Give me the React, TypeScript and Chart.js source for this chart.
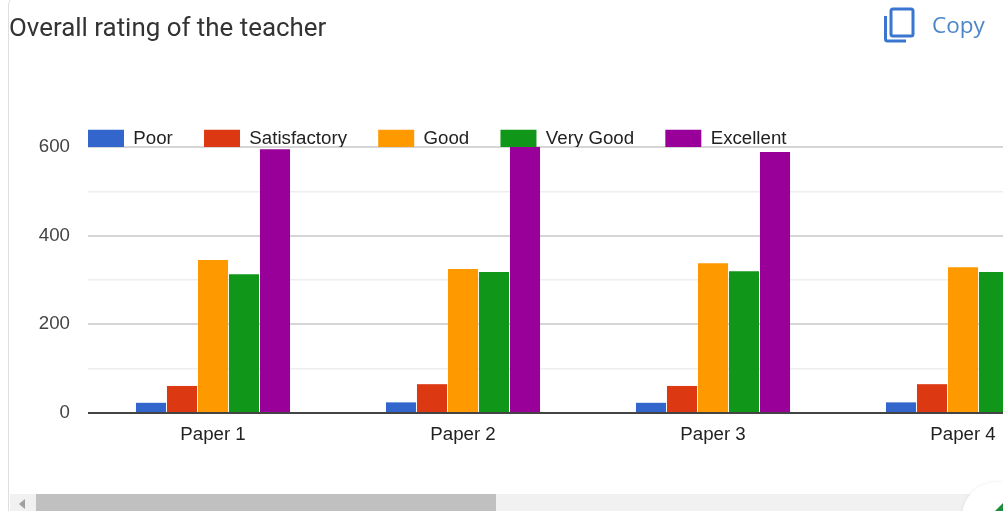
import React, { useEffect, useRef } from "react";
import { Chart, registerables } from "chart.js";

Chart.register(...registerables);

const categories = ["Paper 1", "Paper 2", "Paper 3", "Paper 4"];
const poor = [23, 24, 23, 24];
const satisfactory = [61, 65, 61, 65];
const good = [345, 325, 338, 329];
const veryGood = [313, 318, 320, 318];
const excellent = [595, 600, 589, 592];
const title = "Overall rating of the teacher";
const copyLabel = "Copy";

const FONT = "'Liberation Sans', Arial, sans-serif";

const legendPlacer = {
  id: "legendPlacer",
  beforeLayout(chart: any) {
    const l = chart.legend;
    if (l && !l.__patched) {
      l.__patched = true;
      const orig = l.fit;
      l.fit = function () {
        orig.call(this);
        this.height = 147;
      };
    }
  },
  afterLayout(chart: any) {
    const l = chart.legend;
    if (l) {
      l.left = 56.8;
      l.top = 98.3;
      l.right = 1088;
      l.bottom = 147;
    }
  },
};

export default function App() {
  const ref = useRef<HTMLCanvasElement>(null);
  useEffect(() => {
    const prevMargin = document.body.style.margin;
    document.body.style.margin = "0";
    const ds = (label: string, data: number[], color: string) => ({
      label,
      data,
      backgroundColor: color,
      borderWidth: 0,
      categoryPercentage: 0.62,
      barPercentage: 0.97,
    });
    const chart = new Chart(ref.current!, {
      type: "bar",
      data: {
        labels: categories,
        datasets: [
          ds("Poor", poor, "#3366cc"),
          ds("Satisfactory", satisfactory, "#dc3912"),
          ds("Good", good, "#ff9900"),
          ds("Very Good", veryGood, "#109618"),
          ds("Excellent", excellent, "#990099"),
        ],
      },
      options: {
        animation: false,
        responsive: false,
        layout: { padding: 0 },
        plugins: {
          title: { display: false },
          tooltip: { enabled: false },
          legend: {
            display: true,
            position: "top",
            align: "start",
            labels: {
              boxWidth: 36,
              boxHeight: 18,
              padding: 31.2,
              color: "#222222",
              font: { family: FONT, size: 18.7 },
            },
          },
        },
        scales: {
          x: {
            grid: { display: false, drawTicks: false },
            border: { display: false },
            ticks: {
              color: "#222222",
              padding: 11,
              maxRotation: 0,
              autoSkip: false,
              font: { family: FONT, size: 18.7 },
            },
            afterFit: (s: any) => {
              s.height = 98;
            },
          },
          y: {
            min: 0,
            max: 600,
            grid: {
              drawTicks: false,
              lineWidth: (c: any) => (c.tick.value % 200 === 0 ? 2 : 1.5),
              color: (c: any) =>
                c.tick.value === 0 ? "#444444" : c.tick.value % 200 === 0 ? "#d6d6d6" : "#eeeeee",
            },
            border: { display: false },
            ticks: {
              stepSize: 100,
              padding: 18,
              color: "#444444",
              font: { family: FONT, size: 18.7 },
              callback: (v: any) => (Number(v) % 200 === 0 ? String(v) : ""),
            },
            afterFit: (s: any) => {
              s.width = 88;
            },
          },
        },
      },
      plugins: [legendPlacer],
    } as any);
    return () => {
      chart.destroy();
      document.body.style.margin = prevMargin;
    };
  }, []);

  return (
    <div
      style={{
        position: "relative",
        width: 1003,
        height: 511,
        overflow: "hidden",
        background: "#fff",
      }}
    >
      <canvas
        ref={ref}
        width={1088}
        height={511}
        style={{ position: "absolute", left: 0, top: 0, width: 1088, height: 511, filter: "blur(0.4px)" }}
      />
      <div
        style={{
          position: "absolute",
          left: 8,
          top: -3,
          width: 1100,
          height: 530,
          border: "1.5px solid #dedede",
          borderRadius: 8,
          boxSizing: "border-box",
        }}
      />
      <div
        style={{
          position: "absolute",
          left: 9,
          top: 11,
          fontFamily: "Roboto, sans-serif",
          fontSize: 25.9,
          lineHeight: "32px",
          color: "#333333",
          whiteSpace: "nowrap",
          filter: "blur(0.4px)",
        }}
      >
        {title}
      </div>
      <svg
        width="34"
        height="38"
        viewBox="0 0 34 38"
        style={{ position: "absolute", left: 882, top: 6 }}
      >
        <rect x="9" y="3" width="22" height="27" rx="2" fill="none" stroke="#3a76d0" strokeWidth="3" />
        <path d="M3.5 10 V33 a2 2 0 0 0 2 2 H24" fill="none" stroke="#3a76d0" strokeWidth="3" />
      </svg>
      <div
        style={{
          position: "absolute",
          left: 932,
          top: 10,
          fontFamily: "'Open Sans', sans-serif",
          fontSize: 22.5,
          lineHeight: "30px",
          color: "#4a86c8",
          filter: "blur(0.4px)",
        }}
      >
        {copyLabel}
      </div>
      <div
        style={{
          position: "absolute",
          left: 10,
          top: 494,
          width: 993,
          height: 17,
          background: "#f1f1f1",
        }}
      />
      <div
        style={{
          position: "absolute",
          left: 36,
          top: 494,
          width: 460,
          height: 17,
          background: "#c0c0c0",
        }}
      />
      <svg width="10" height="12" style={{ position: "absolute", left: 17, top: 498 }}>
        <path d="M8 1 L8 11 L2 6 Z" fill="#a0a0a0" />
      </svg>
      <div
        style={{
          position: "absolute",
          left: 962,
          top: 482,
          width: 70,
          height: 70,
          borderRadius: "50%",
          background: "#ffffff",
          boxShadow: "0 0 4px rgba(0,0,0,0.08)",
        }}
      />
      <svg width="8" height="8" style={{ position: "absolute", left: 995, top: 503 }}>
        <path d="M0 8 L8 0 L8 8 Z" fill="#1e8e3e" />
      </svg>
    </div>
  );
}
